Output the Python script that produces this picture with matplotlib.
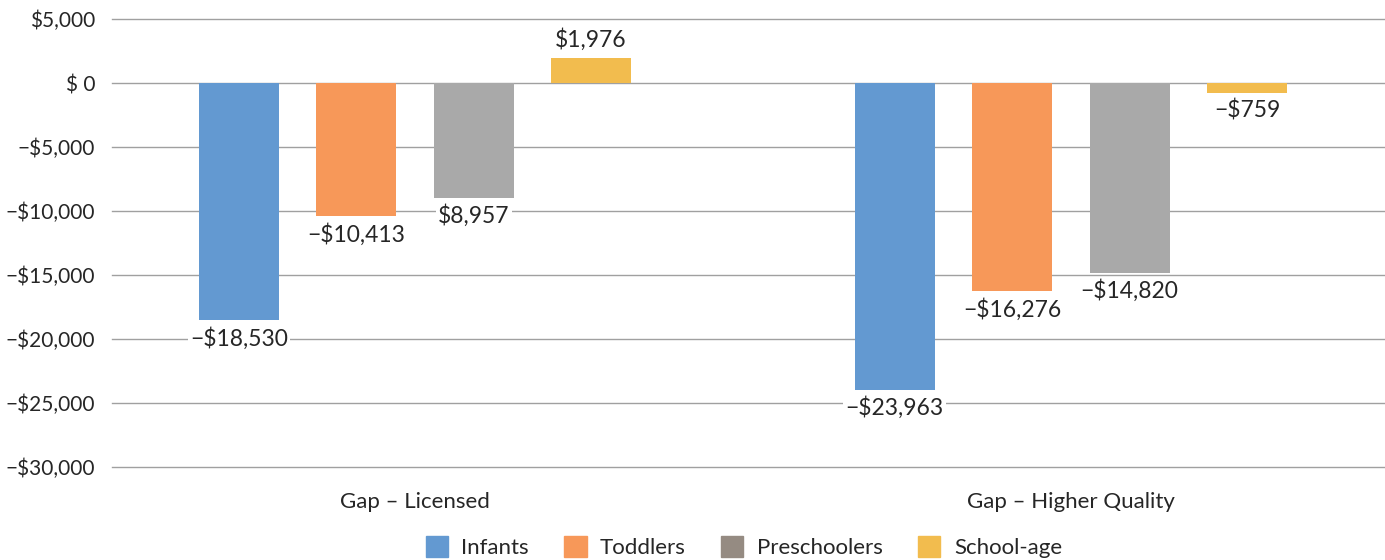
import matplotlib.pyplot as plt
from matplotlib.patches import Patch
import numpy as np

plt.rcParams['font.family'] = ['Lato', 'DejaVu Sans']

groups = ['Gap \u2013 Licensed', 'Gap \u2013 Higher Quality']
series = ['Infants', 'Toddlers', 'Preschoolers', 'School-age']
infants = [-18530, -23963]
toddlers = [-10413, -16276]
preschoolers = [-8957, -14820]
school_age = [1976, -759]
values = [infants, toddlers, preschoolers, school_age]
# printed labels, kept as published
labels = [['\u2212$18,530', '\u2212$23,963'],
          ['\u2212$10,413', '\u2212$16,276'],
          ['$8,957', '\u2212$14,820'],
          ['$1,976', '\u2212$759']]
yticks = [5000, 0, -5000, -10000, -15000, -20000, -25000, -30000]
ytick_labels = ['$5,000', '$ 0', '\u2212$5,000', '\u2212$10,000', '\u2212$15,000',
                '\u2212$20,000', '\u2212$25,000', '\u2212$30,000']

bar_colors = ['#6399d1', '#f79859', '#a9a9a9', '#f2bc4e']
legend_colors = ['#6399d1', '#f79859', '#958b82', '#f2bc4e']
text_c = '#262626'

fig = plt.figure(figsize=(13.85, 5.6), dpi=100)
ax = fig.add_axes([112 / 1385, 1 - 467 / 560, 1 - 112 / 1385, (467 - 19) / 560])

x = np.arange(len(groups))
width = 0.122
step = 0.179
for i, (vals, c) in enumerate(zip(values, bar_colors)):
    pos = x + (i - 1.5) * step
    ax.bar(pos, vals, width, color=c, zorder=2)
    for px, v, lab in zip(pos, vals, labels[i]):
        if v >= 0:
            ax.annotate(lab, (px, v), xytext=(0, 5), textcoords='offset points',
                        ha='center', va='bottom', fontsize=16.5, color=text_c, zorder=3)
        else:
            ax.annotate(lab, (px, v), xytext=(0, -5), textcoords='offset points',
                        ha='center', va='top', fontsize=16.5, color=text_c, zorder=3,
                        bbox=dict(boxstyle='square,pad=0.1', fc='white', ec='none'))

ax.set_ylim(-30000, 5000)
ax.set_xlim(-0.462, 1.479)
ax.set_yticks(yticks)
ax.set_yticklabels(ytick_labels, fontsize=15, color=text_c)
ax.set_xticks(x)
ax.set_xticklabels(groups, fontsize=16, color=text_c)
ax.tick_params(axis='y', length=0, pad=12)
ax.tick_params(axis='x', length=0, pad=18)
ax.grid(axis='y', color='#a0a0a0', linewidth=1, zorder=0)
for gl in ax.get_ygridlines():
    gl.set_clip_on(False)
for s in ax.spines.values():
    s.set_visible(False)

handles = [Patch(color=c, label=s) for s, c in zip(series, legend_colors)]
fig.legend(handles=handles, loc='center', bbox_to_anchor=(0.537, 1 - 547 / 560),
           ncol=4, frameon=False, fontsize=16, handlelength=1.0, handleheight=1.1,
           columnspacing=1.6, handletextpad=0.6, labelcolor=text_c)

fig.savefig('out.png', dpi=100, facecolor='white')
